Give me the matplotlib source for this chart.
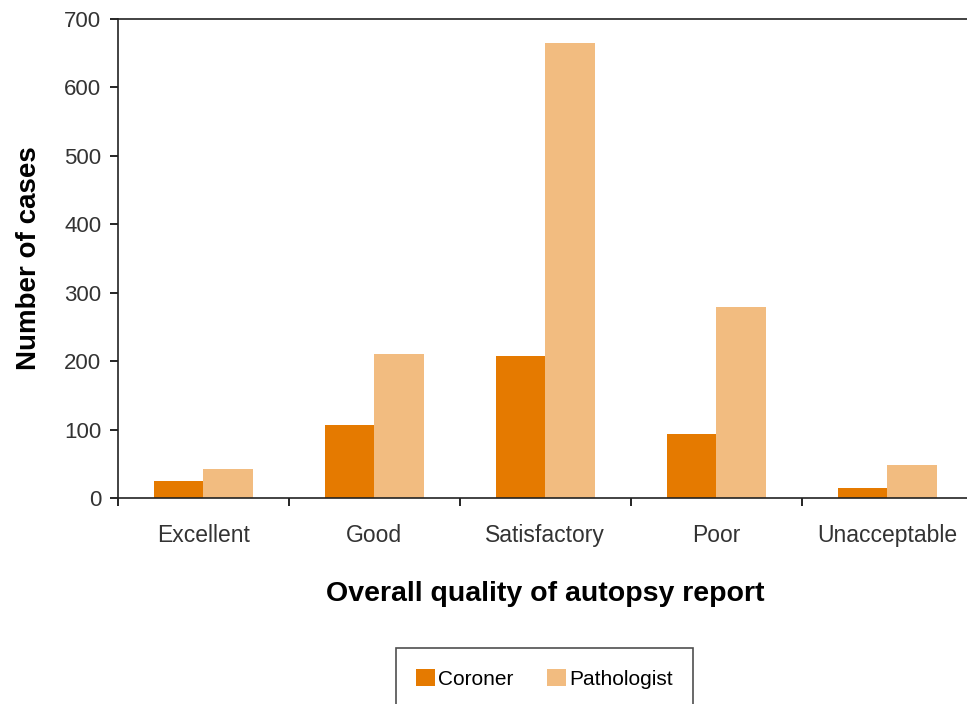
import matplotlib
matplotlib.use("Agg")
import matplotlib.pyplot as plt
import numpy as np

categories = ["Excellent", "Good", "Satisfactory", "Poor", "Unacceptable"]
coroner = [25, 107, 208, 94, 15]
pathologist = [42, 210, 665, 279, 48]

plt.rcParams['font.family'] = ['Liberation Sans', 'DejaVu Sans']

fig = plt.figure(figsize=(9.67, 7.04), dpi=100)
# axes runs slightly past the right edge, so no right spine shows
ax = fig.add_axes([0.122, 0.2926, 0.884, 0.6804])

x = np.arange(len(categories))
w = 0.29
ax.bar(x - w / 2, coroner, w, color='#E57A00', label='Coroner')
ax.bar(x + w / 2, pathologist, w, color='#F2BC80', label='Pathologist')

ax.set_xlim(-0.5, len(categories) - 0.5)
ax.set_ylim(0, 700)
ax.set_yticks(range(0, 701, 100))
ax.set_xticks(x)
ax.set_xticklabels(categories, fontsize=16.5, color='#333333')
ax.set_xticks(np.arange(-0.5, len(categories)), minor=True)
ax.tick_params(axis='x', which='major', length=0, pad=19)
ax.tick_params(axis='x', which='minor', length=6, width=1.2, direction='out')
ax.tick_params(axis='y', length=6, width=1.2, labelsize=16, labelcolor='#333333', pad=6)
for s in ax.spines.values():
    s.set_linewidth(1.2)
    s.set_color('#222222')

ax.set_xlabel('Overall quality of autopsy report', fontsize=20.5, fontweight='bold', labelpad=24)
ax.set_ylabel('Number of cases', fontsize=20, fontweight='bold', labelpad=16)

leg = fig.legend(loc='upper center', bbox_to_anchor=(0.563, 0.0795), ncol=2, fontsize=15,
                 frameon=True, fancybox=False, handlelength=0.9, handleheight=0.9,
                 columnspacing=1.6, borderpad=1.0, handletextpad=0.15, borderaxespad=0)
leg.get_frame().set_edgecolor('#222222')
leg.get_frame().set_linewidth(1.2)

fig.savefig('out.png', dpi=100)
